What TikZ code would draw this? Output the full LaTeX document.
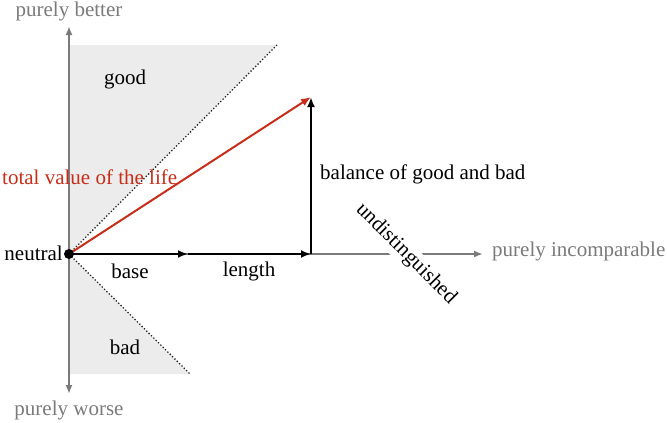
\documentclass[tikz,border=0pt]{standalone}
\usepackage{fontspec}
\setmainfont{Liberation Serif}
\usetikzlibrary{arrows.meta}
\definecolor{axisgray}{RGB}{122,122,122}
\definecolor{lifered}{RGB}{200,45,25}
\definecolor{shadegray}{RGB}{236,236,236}
\tikzset{
  txt/.style={inner sep=0pt, font=\fontsize{21}{25}\selectfont},
  axislabel/.style={txt, text=axisgray},
  axisline/.style={draw=axisgray, line width=2pt, -{Latex[length=9pt,width=7pt]}},
  vec/.style={draw=black, line width=2pt, -{Latex[length=10pt,width=8pt]}},
  redvec/.style={draw=lifered, line width=2pt, -{Latex[length=10pt,width=8pt]}},
  bound/.style={draw=black!85, line width=1.3pt, dotted},
}
\begin{document}
\begin{tikzpicture}[x=1pt,y=-1pt]
\useasboundingbox (0,0) rectangle (667,423);
% coordinates
\coordinate (O) at (69,254);
\coordinate (top) at (69,26);
\coordinate (bottom) at (69,394);
\coordinate (right) at (483,254);
\coordinate (gtop) at (277,45);
\coordinate (gcorner) at (69,45);
\coordinate (bbot) at (190,374);
\coordinate (bcorner) at (69,374);
\coordinate (B) at (188,254);
\coordinate (L) at (311,254);
\coordinate (T) at (311,97);
% shaded regions
\fill[shadegray] (O) -- (gcorner) -- (gtop) -- cycle;
\fill[shadegray] (O) -- (bcorner) -- (bbot) -- cycle;
\draw[bound] (O) -- (gtop);
\draw[bound] (O) -- (bbot);
% axes
\draw[axisline] (O) -- (top);
\draw[axisline] (O) -- (bottom);
\draw[axisline] (O) -- (right);
% undistinguished label over axis
\node[txt, fill=white, inner sep=2pt, rotate=-45] (und) at (406,254) {undistinguished};
% vectors
\draw[vec] (O) -- (B);
\draw[vec] (B) -- (L);
\draw[vec] (L) -- (T);
\draw[redvec] (O) -- (T);
\fill[black] (O) circle (5pt);
% labels
\node[axislabel] (pb) at (69,11) {purely better};
\node[axislabel] (pw) at (69,410) {purely worse};
\node[axislabel, anchor=west] (pi) at (492,251) {purely incomparable};
\node[txt] (good) at (125,79) {good};
\node[txt] (bad) at (125,347) {bad};
\node[txt, anchor=east] (neutral) at (63,253) {neutral};
\node[txt, text=lifered, anchor=west] (tv) at (2,177) {total value of the life};
\node[txt, anchor=west] (bal) at (320,174) {balance of good and bad};
\node[txt] (base) at (130,271) {base};
\node[txt] (len) at (249,271) {length};
\end{tikzpicture}
\end{document}
